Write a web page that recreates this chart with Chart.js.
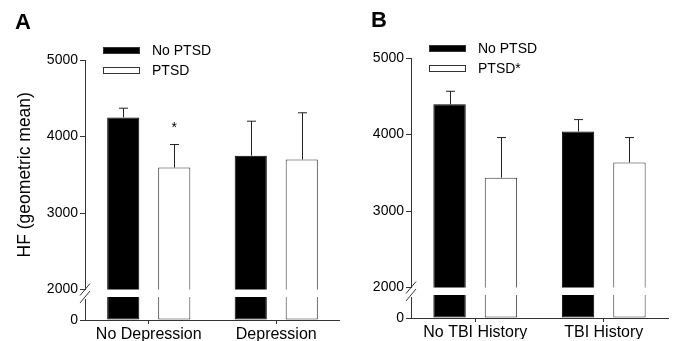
<!DOCTYPE html>
<html>
<head>
<meta charset="utf-8">
<script src="https://cdn.jsdelivr.net/npm/chart.js@4.4.1/dist/chart.umd.min.js"></script>
<style>
  body { margin: 0; background: #fff; }
  canvas { position: absolute; }
</style>
</head>
<body>
<canvas id="chartA" width="340" height="341" style="left:0;top:0"></canvas>
<canvas id="chartB" width="340" height="341" style="left:335px;top:-2px"></canvas>
<script>
// data
const BREAK = 2000;
const categoriesA = ["No Depression", "Depression"];
const categoriesB = ["No TBI History", "TBI History"];
const seriesA = ["No PTSD", "PTSD"];
const seriesB = ["No PTSD", "PTSD*"];
const noPtsdA = [4250, 3750];
const ptsdA = [3595, 3700];
const noPtsdErrA = [4370, 4200];
const ptsdErrA = [3895, 4310];
const noPtsdB = [4395, 4040];
const ptsdB = [3435, 3635];
const noPtsdErrB = [4565, 4195];
const ptsdErrB = [3960, 3960];
const upperTicks = [2000, 3000, 4000, 5000];
const lowerTicks = [0];

const FONT = "'Liberation Sans', Arial, Helvetica, sans-serif";
const AXIS = "#333";

// error bars, broken axis marks, legend, panel letter
const decor = {
  id: "decor",
  afterDatasetsDraw(chart, args, opts) {
    const ctx = chart.ctx;
    const yUp = chart.scales.y;
    const yLow = chart.scales.yLow;
    const ax = chart.chartArea.left;
    ctx.save();
    ctx.strokeStyle = "#222";
    ctx.lineWidth = 1;
    chart.data.datasets.forEach((ds, i) => {
      if (!ds.err) return;
      chart.getDatasetMeta(i).data.forEach((bar, j) => {
        const x = Math.round(bar.x) + 0.5;
        const yTop = yUp.getPixelForValue(ds.err[j]);
        ctx.beginPath();
        ctx.moveTo(x, bar.y);
        ctx.lineTo(x, yTop);
        ctx.moveTo(x - 4.5, yTop);
        ctx.lineTo(x + 4.5, yTop);
        ctx.stroke();
      });
    });

    // lower axis segment and break slashes
    const yl0 = yLow.getPixelForValue(0);
    const yl2 = yLow.getPixelForValue(BREAK);
    const yu2 = yUp.getPixelForValue(BREAK);
    ctx.strokeStyle = AXIS;
    ctx.beginPath();
    ctx.moveTo(ax + 0.5, yl2 + 2);
    ctx.lineTo(ax + 0.5, yl0);
    ctx.moveTo(ax - 5, yu2 + 6);
    ctx.lineTo(ax + 5, yu2 - 6);
    ctx.moveTo(ax - 5, yl2 + 6);
    ctx.lineTo(ax + 5, yl2 - 6);
    ctx.stroke();

    // asterisk
    if (opts.star) {
      const [di, j] = opts.star;
      const bar = chart.getDatasetMeta(di).data[j];
      const yTop = yUp.getPixelForValue(chart.data.datasets[di].err[j]);
      ctx.fillStyle = "#000";
      ctx.font = "14px " + FONT;
      ctx.textAlign = "center";
      ctx.textBaseline = "middle";
      ctx.fillText("*", bar.x, yTop - 16);
    }

    // legend
    ctx.font = "14px " + FONT;
    ctx.textAlign = "left";
    ctx.textBaseline = "middle";
    [0, 1].forEach(i => {
      const ds = chart.data.datasets[i];
      const rx = ax + 18, ry = 47 + i * 20;
      ctx.fillStyle = ds.backgroundColor;
      ctx.fillRect(rx, ry, 37, 7);
      ctx.strokeStyle = "#333";
      ctx.strokeRect(rx + 0.5, ry + 0.5, 36, 6);
      ctx.fillStyle = "#000";
      ctx.fillText(ds.label, rx + 49, ry + 4);
    });

    // panel letter
    ctx.font = "bold 22px " + FONT;
    ctx.textBaseline = "alphabetic";
    ctx.fillText(opts.letter, opts.letterX, 29);
    ctx.restore();
  }
};

function makeChart(id, categories, series, noPtsd, ptsd, errNo, errPt, o) {
  const bar = { barPercentage: 0.63, categoryPercentage: 0.8, borderWidth: 1, borderSkipped: "start" };
  const low = { ...bar, borderSkipped: "end" };
  const datasets = [
    { label: series[0], data: noPtsd, err: errNo, yAxisID: "y", stack: "a",
      backgroundColor: "#000", borderColor: "#000", ...bar },
    { label: series[1], data: ptsd, err: errPt, yAxisID: "y", stack: "b",
      backgroundColor: "#fff", borderColor: "#333", ...bar },
    { label: "", data: noPtsd.map(v => Math.min(v, BREAK)), yAxisID: "yLow", stack: "a",
      backgroundColor: "#000", borderColor: "#000", ...low },
    { label: "", data: ptsd.map(v => Math.min(v, BREAK)), yAxisID: "yLow", stack: "b",
      backgroundColor: "#fff", borderColor: "#333", ...low },
  ];
  const tickFont = { family: FONT, size: 14 };
  const grid = { drawOnChartArea: false, drawTicks: true, tickLength: 5, color: AXIS };
  return new Chart(document.getElementById(id), {
    type: "bar",
    data: { labels: categories, datasets },
    options: {
      responsive: false,
      animation: false,
      layout: { padding: { top: 60, right: o.right, bottom: 0, left: 0 } },
      plugins: {
        legend: { display: false },
        tooltip: { enabled: false },
        decor: { letter: o.letter, letterX: o.letterX, star: o.star },
      },
      scales: {
        x: {
          grid: { drawOnChartArea: false, offset: false, tickLength: 4, color: AXIS },
          border: { color: AXIS },
          ticks: { color: "#000", font: { family: FONT, size: 16 }, padding: 1, maxRotation: 0 },
          afterFit: s => { s.height = 21; },
        },
        // left boxes are laid out in reverse order, so the lower piece comes first
        yLow: {
          type: "linear",
          position: "left",
          stack: "v",
          stackWeight: 30.5,
          stacked: false,
          min: 0,
          max: 2652,
          grid,
          border: { display: false },
          ticks: { color: "#000", font: tickFont, padding: 2, callback: v => String(v) },
          afterBuildTicks: s => { s.ticks = lowerTicks.map(v => ({ value: v })); },
          afterFit: s => { s.width = o.axisX; },
        },
        y: {
          type: "linear",
          position: "left",
          stack: "v",
          stackWeight: 229.5,
          stacked: false,
          min: 2000,
          max: 5000,
          grid,
          border: { color: AXIS },
          ticks: { color: "#000", font: tickFont, padding: 2, callback: v => String(v) },
          afterBuildTicks: s => { s.ticks = upperTicks.map(v => ({ value: v })); },
          afterFit: s => { s.width = o.axisX; },
          title: {
            display: !!o.title,
            text: o.title || "",
            color: "#000",
            font: { family: FONT, size: 17.5 },
            padding: { top: 15, bottom: 0 },
          },
        },
      },
    },
    plugins: [decor],
  });
}

makeChart("chartA", categoriesA, seriesA, noPtsdA, ptsdA, noPtsdErrA, ptsdErrA,
  { axisX: 85, right: 0, letter: "A", letterX: 15, star: [1, 0], title: "HF (geometric mean)" });
makeChart("chartB", categoriesB, seriesB, noPtsdB, ptsdB, noPtsdErrB, ptsdErrB,
  { axisX: 76, right: 7, letter: "B", letterX: 36 });
</script>
</body>
</html>
